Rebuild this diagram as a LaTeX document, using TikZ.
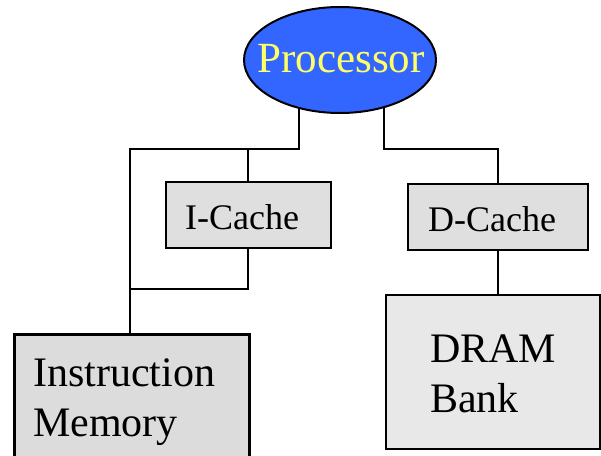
\documentclass[tikz,border=0pt]{standalone}
\usepackage{fontspec}
\setmainfont{Liberation Serif}
\usetikzlibrary{shapes.geometric,backgrounds}
\definecolor{procblue}{HTML}{3366FF}
\definecolor{procyellow}{HTML}{FFFF66}
\definecolor{cachegray}{HTML}{DFDFDF}
\definecolor{imemgray}{HTML}{DCDCDC}
\definecolor{dramgray}{HTML}{E8E8E8}
\tikzset{
  wire/.style={line width=2pt, line cap=rect},
  boxnode/.style={draw, line width=2pt, anchor=north west, inner sep=0pt},
  bigtext/.style={font=\fontsize{42}{47}\selectfont, inner sep=0pt, anchor=base west},
  midtext/.style={font=\fontsize{36}{40}\selectfont, inner sep=0pt, anchor=base west}
}
\begin{document}
\begin{tikzpicture}[x=1pt, y=-1pt]
  \useasboundingbox (0,0) rectangle (601,455);
  \clip (0,0) rectangle (601,455);

  % processor
  \node[ellipse, draw, line width=2pt, fill=procblue, minimum width=192pt,
        minimum height=106pt, inner sep=0pt] (proc) at (340,60) {};
  \node[font=\fontsize{43}{48}\selectfont, text=procyellow, inner sep=0pt,
        anchor=base] (proctxt) at (341,72) {Processor};

  % caches
  \node[boxnode, fill=cachegray, minimum width=165pt, minimum height=66pt] (icache) at (165,181) {};
  \node[midtext] (icachetxt) at (185,229) {I-Cache};
  \node[boxnode, fill=cachegray, minimum width=180pt, minimum height=66pt] (dcache) at (407,183) {};
  \node[midtext] (dcachetxt) at (428,231) {D-Cache};

  % memories
  \node[boxnode, line width=3pt, fill=imemgray, minimum width=235pt, minimum height=140pt] (imem) at (13,333) {};
  \node[bigtext] (imemtxt1) at (33,386) {Instruction};
  \node[bigtext] (imemtxt2) at (33,436) {Memory};
  \node[boxnode, fill=dramgray, minimum width=214pt, minimum height=154pt] (dram) at (385,294) {};
  \node[bigtext] (dramtxt1) at (430,362) {DRAM};
  \node[bigtext] (dramtxt2) at (430,412) {Bank};

  % junction points
  \coordinate (pl) at (299,100);
  \coordinate (pr) at (384,100);
  \coordinate (jl) at (299,149);
  \coordinate (jr) at (384,149);
  \coordinate (jc) at (130,149);
  \coordinate (ji) at (248,149);
  \coordinate (jb) at (130,289);

  \begin{pgfonlayer}{background}
    \draw[wire] (pl) -- (jl) -- (jc) -- (imem.north -| jc);
    \draw[wire] (ji) -- (icache.north -| ji);
    \draw[wire] ([yshift=4pt]icache.south -| ji) |- (jb);
    \draw[wire] (pr) -- (jr) -| (dcache.north);
    \draw[wire] (dcache.south) -- (dram.north -| dcache.south);
  \end{pgfonlayer}
\end{tikzpicture}
\end{document}
